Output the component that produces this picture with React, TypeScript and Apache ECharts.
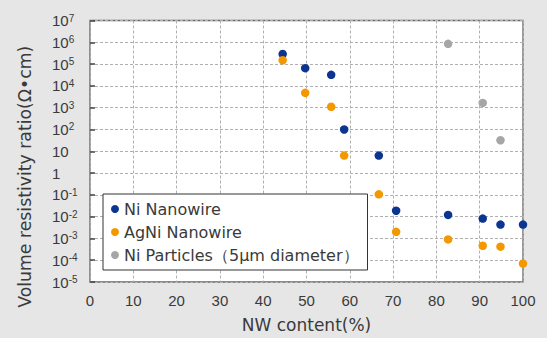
import React, { useEffect, useRef } from "react";
import * as echarts from "echarts";

const seriesNames = ["Ni Nanowire", "AgNi Nanowire", "Ni Particles（5μm diameter）"];
const niNanowireX = [44.5, 49.7, 55.7, 58.7, 66.7, 70.7, 82.7, 90.7, 94.8, 100];
const niNanowireY = [2.9e5, 6.5e4, 3.2e4, 100, 6.3, 0.0187, 0.012, 0.0081, 0.0043, 0.0043];
const agNiX = [44.5, 49.7, 55.7, 58.7, 66.7, 70.7, 82.7, 90.7, 94.8, 100];
const agNiY = [1.5e5, 4800, 1100, 6.3, 0.105, 0.002, 0.0009, 0.00046, 0.00042, 0.00007];
const niParticlesX = [82.7, 90.7, 94.8];
const niParticlesY = [8.5e5, 1650, 32];
const colors = ["#0b3591", "#f39800", "#a6a6a6"];

const zip = (xs: number[], ys: number[]) => xs.map((x, i) => [x, ys[i]]);

export default function App() {
  const ref = useRef<HTMLDivElement>(null);
  useEffect(() => {
    if (!ref.current) return;
    const chart = echarts.init(ref.current, null, { renderer: "svg" });
    const textColor = "#3a3a3a";
    const gridLine = { show: true, lineStyle: { color: "#b0b0b0", type: [3, 2] as any, width: 1 } };
    chart.setOption({
      animation: false,
      backgroundColor: "#e6e6e6",
      grid: {
        left: 90,
        right: 24,
        top: 20.5,
        bottom: 52,
        show: true,
        backgroundColor: "#ffffff",
        borderColor: "#666666",
        borderWidth: 1.3,
      },
      legend: {
        orient: "vertical",
        left: 103,
        top: 194,
        backgroundColor: "#ffffff",
        borderColor: "#333333",
        borderWidth: 1,
        borderRadius: 0,
        padding: [7, 9, 7, 8],
        itemGap: 7,
        itemWidth: 8,
        itemHeight: 8,
        icon: "circle",
        textStyle: { fontFamily: "DejaVu Sans", fontSize: 16, color: textColor, lineHeight: 16 },
        data: seriesNames,
      },
      xAxis: {
        type: "value",
        min: 0,
        max: 100,
        interval: 10,
        name: "NW content(%)",
        nameLocation: "middle",
        nameGap: 34,
        nameTextStyle: { fontFamily: "DejaVu Sans", fontSize: 17, color: textColor },
        axisLine: { show: false },
        axisTick: { show: false },
        axisLabel: { fontFamily: "Liberation Sans", fontSize: 15, color: textColor, margin: 11 },
        splitLine: gridLine,
      },
      yAxis: {
        type: "log",
        logBase: 10,
        min: 1e-5,
        max: 1e7,
        interval: 1,
        splitNumber: 12,
        name: "Volume resistivity ratio(Ω•cm)",
        nameLocation: "middle",
        nameGap: 57,
        nameTextStyle: { fontFamily: "DejaVu Sans", fontSize: 17.3, color: textColor, padding: [0, 51, 0, 0] },
        axisLine: { show: false },
        axisTick: { show: true, inside: true, length: 5, lineStyle: { color: "#444", width: 1.5 } },
        axisLabel: {
          align: "left",
          margin: 38,
          formatter: (v: number) => {
            const e = Math.round(Math.log10(v));
            if (e === 0) return "{b|1}";
            if (e === 1) return "{b|10}";
            return `{b|10}{s|${e}}`;
          },
          rich: {
            b: { fontFamily: "Liberation Sans", fontSize: 15, color: textColor },
            s: { fontFamily: "Liberation Sans", fontSize: 10, color: textColor, verticalAlign: "top" },
          },
        },
        splitLine: gridLine,
      },
      series: [
        { name: seriesNames[0], type: "scatter", symbol: "circle", symbolSize: 8.5, itemStyle: { color: colors[0], opacity: 1 }, data: zip(niNanowireX, niNanowireY) },
        { name: seriesNames[1], type: "scatter", symbol: "circle", symbolSize: 8.5, itemStyle: { color: colors[1], opacity: 1 }, data: zip(agNiX, agNiY) },
        { name: seriesNames[2], type: "scatter", symbol: "circle", symbolSize: 8.5, itemStyle: { color: colors[2], opacity: 1 }, data: zip(niParticlesX, niParticlesY) },
      ],
    });
    return () => chart.dispose();
  }, []);
  return <div ref={ref} style={{ position: "fixed", left: 0, top: 0, width: 547, height: 338 }} />;
}
